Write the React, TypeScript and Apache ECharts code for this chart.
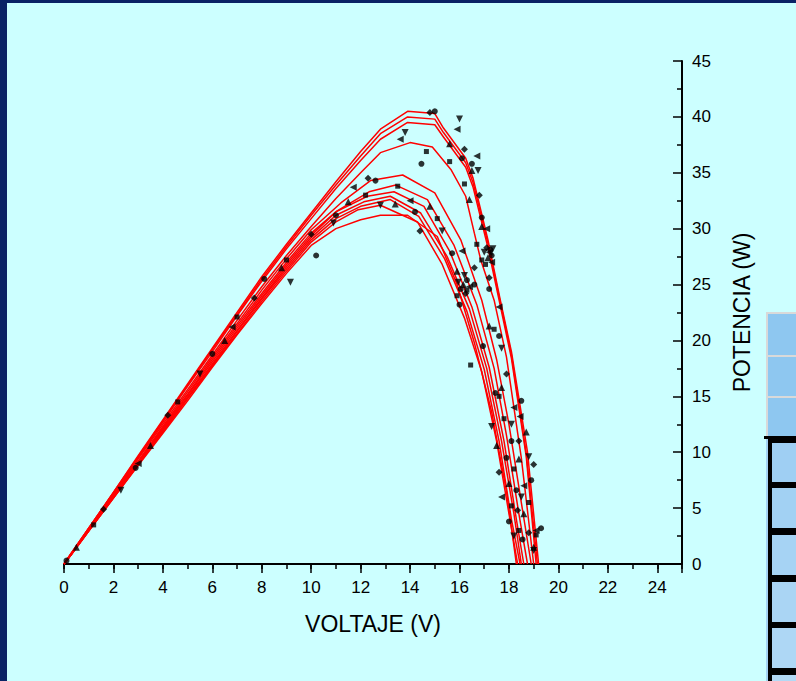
import React, { useEffect, useRef } from "react";
import * as echarts from "echarts";

// ---- fitted curves (voltage V, power W) ----
const vA1 = [0, 0.3, 1, 2, 3, 4, 5, 6, 7, 8, 9, 10, 11, 12, 12.8, 13.9, 15.0, 15.35, 16.25, 16.55, 17.15, 17.65, 18.1, 18.75, 19.2];
const pA1 = [0, 1.0, 3.2, 6.4, 9.7, 12.9, 16.1, 19.3, 22.5, 25.7, 28.6, 31.4, 34.2, 36.9, 38.9, 40.5, 40.3, 39.0, 36.3, 34.5, 29.0, 23.6, 19.0, 10.0, 0];
const vA2 = [0, 0.3, 1, 2, 3, 4, 5, 6, 7, 8, 9, 10, 11, 12, 12.8, 13.9, 15.0, 15.35, 16.25, 16.55, 17.15, 17.65, 18.1, 18.7, 19.15];
const pA2 = [0, 1.0, 3.2, 6.4, 9.6, 12.8, 16.0, 19.2, 22.3, 25.5, 28.4, 31.2, 33.9, 36.5, 38.5, 40.0, 39.8, 38.6, 35.9, 34.1, 28.7, 23.4, 18.7, 9.9, 0];
const vA3 = [0, 0.3, 1, 2, 3, 4, 5, 6, 7, 8, 9, 10, 11, 12, 12.8, 13.9, 15.0, 15.35, 16.25, 16.55, 17.15, 17.65, 18.1, 18.7, 19.1];
const pA3 = [0, 0.95, 3.2, 6.35, 9.5, 12.7, 15.9, 19.0, 22.2, 25.3, 28.2, 30.9, 33.6, 36.1, 38.0, 39.5, 39.3, 38.2, 35.5, 33.7, 28.3, 23.1, 18.4, 9.6, 0];
const vA4 = [0, 0.3, 1, 2, 3, 4, 5, 6, 7, 8, 9, 10, 11, 12, 12.8, 14.0, 14.9, 15.65, 16.25, 16.6, 16.86, 17.4, 17.9, 18.5, 19.0];
const pA4 = [0, 0.9, 3.1, 6.2, 9.4, 12.5, 15.6, 18.7, 21.8, 24.8, 27.6, 30.2, 32.7, 35.0, 36.8, 37.7, 37.3, 35.3, 32.9, 29.6, 27.2, 23.6, 18.5, 9.5, 0];
const vB1 = [0, 0.3, 1, 2, 3, 4, 5, 6, 7, 8, 9, 10, 11.2, 12.4, 13.7, 15.0, 16.05, 16.9, 17.5, 18.0, 18.5, 18.9];
const pB1 = [0, 0.9, 3.1, 6.2, 9.2, 12.3, 15.4, 18.5, 21.5, 24.5, 27.3, 29.9, 32.3, 34.3, 34.8, 33.2, 29.0, 23.6, 18.3, 12.5, 5.5, 0];
const vB2 = [0, 0.3, 1, 2, 3, 4, 5, 6, 7, 8, 9, 10, 11.05, 12.34, 13.42, 14.7, 15.78, 16.7, 17.4, 17.9, 18.4, 18.75];
const pB2 = [0, 0.9, 3.05, 6.1, 9.1, 12.2, 15.2, 18.3, 21.3, 24.2, 27.0, 29.6, 31.6, 33.3, 33.9, 32.6, 28.5, 23.2, 17.5, 11.5, 4.5, 0];
const vB3 = [0, 0.3, 1, 2, 3, 4, 5, 6, 7, 8, 9, 10, 11, 12.27, 13.35, 14.56, 15.6, 16.5, 17.2, 17.8, 18.3, 18.6];
const pB3 = [0, 0.9, 3.0, 6.05, 9.1, 12.1, 15.1, 18.1, 21.1, 24.0, 26.8, 29.4, 31.5, 32.9, 33.3, 32.0, 28.0, 23.0, 17.6, 11.0, 4.0, 0];
const vB4 = [0, 0.3, 1, 2, 3, 4, 5, 6, 7, 8, 9, 10, 11, 12.13, 13.2, 14.43, 15.5, 16.4, 17.1, 17.7, 18.2, 18.5];
const pB4 = [0, 0.9, 3.0, 6.0, 9.0, 12.0, 14.9, 17.9, 20.9, 23.8, 26.6, 29.2, 31.2, 32.4, 32.9, 31.4, 27.5, 22.8, 17.5, 11.0, 4.5, 0];
const vB5 = [0, 0.3, 1, 2, 3, 4, 5, 6, 7, 8, 9, 10, 11, 12.0, 13.2, 14.35, 15.4, 16.3, 17.0, 17.6, 18.1, 18.45];
const pB5 = [0, 0.9, 2.98, 5.95, 8.9, 11.9, 14.9, 17.8, 20.8, 23.7, 26.4, 29.0, 30.9, 32.0, 32.6, 31.1, 27.3, 22.6, 17.4, 11.0, 4.0, 0];
const vB6 = [0, 0.3, 1, 2, 3, 4, 5, 6, 7, 8, 9, 10, 11, 11.9, 12.8, 14.3, 15.3, 16.2, 16.9, 17.5, 18.0, 18.35];
const pB6 = [0, 0.85, 2.95, 5.9, 8.9, 11.8, 14.8, 17.7, 20.6, 23.5, 26.2, 28.8, 30.6, 31.7, 32.1, 30.6, 26.8, 22.0, 17.2, 11.0, 4.5, 0];
const vB7 = [0, 0.3, 1, 2, 3, 4, 5, 6, 7, 8, 9, 10, 11, 12.0, 12.8, 13.9, 15.1, 15.9, 16.6, 17.3, 17.9, 18.3];
const pB7 = [0, 0.85, 2.94, 5.9, 8.8, 11.7, 14.6, 17.6, 20.5, 23.3, 26.0, 28.5, 30.0, 30.8, 31.2, 31.2, 29.3, 25.0, 19.8, 13.6, 6.5, 0];

// ---- measured points [V, W] ----
const ptsCircle = [[0.1, 0.3], [2.9, 8.6], [6.0, 18.8], [8.1, 25.5], [10.2, 27.6], [11.0, 31.2], [12.6, 34.3], [14.46, 35.8], [15.0, 40.5], [16.1, 36.3], [16.5, 35.8], [15.7, 27.8], [16.0, 23.2], [16.9, 31.0], [17.3, 27.6], [17.2, 24.6], [17.6, 20.4], [18.1, 11.0], [18.0, 3.8], [18.9, 7.5], [19.3, 3.2], [18.5, 14.6], [16.6, 25.0], [14.2, 31.5], [16.05, 24.6], [16.3, 25.4], [17.25, 28.1], [17.9, 9.5], [18.3, 6.6], [18.55, 2.2], [16.95, 19.5], [17.45, 15.3]];
const ptsSquare = [[1.2, 3.5], [4.6, 14.5], [7.0, 22.1], [9.0, 27.2], [12.2, 33.0], [13.5, 33.8], [14.66, 36.9], [15.6, 36.0], [16.2, 34.0], [16.7, 28.6], [15.1, 30.9], [16.3, 24.5], [17.4, 21.0], [17.6, 15.0], [18.2, 8.5], [18.8, 5.5], [19.1, 2.6], [16.9, 27.2], [15.9, 24.0], [17.05, 26.8], [17.8, 13.0], [18.1, 5.2], [18.4, 3.0], [16.45, 17.8]];
const ptsTriUp = [[0.5, 1.5], [3.5, 10.6], [6.5, 20.0], [8.8, 26.5], [11.5, 32.4], [13.4, 32.2], [15.6, 37.6], [16.5, 35.2], [14.8, 32.0], [16.9, 30.2], [15.9, 26.2], [17.2, 21.3], [17.7, 15.8], [18.4, 9.4], [18.6, 4.5], [19.0, 1.5], [16.4, 32.6], [17.15, 27.4], [16.15, 25.0], [17.5, 10.6], [18.0, 7.2], [18.7, 11.8]];
const ptsTriDown = [[2.3, 6.6], [5.5, 17.0], [9.16, 25.2], [10.9, 30.5], [13.8, 38.6], [16.0, 39.8], [16.75, 35.2], [15.3, 29.8], [16.2, 25.8], [17.0, 27.9], [17.7, 19.3], [18.1, 12.5], [18.5, 6.0], [19.0, 1.2], [12.8, 32.1], [17.35, 28.2], [15.95, 25.2], [17.3, 12.3], [18.2, 2.5], [18.8, 9.6]];
const ptsDiamond = [[1.6, 4.9], [4.2, 13.3], [7.7, 23.8], [10.0, 29.5], [12.3, 34.5], [14.8, 40.4], [16.2, 37.1], [14.4, 29.8], [16.6, 26.5], [17.2, 25.6], [17.9, 17.0], [18.4, 11.0], [19.0, 8.9], [18.8, 2.8], [16.8, 33.0], [17.1, 28.3], [16.25, 24.2], [17.6, 8.2], [18.35, 4.8]];
const ptsTriLeft = [[3.0, 9.0], [6.8, 21.2], [11.7, 33.7], [13.6, 38.0], [15.9, 38.9], [16.7, 36.5], [17.1, 30.0], [14.0, 32.5], [16.1, 28.0], [17.3, 27.0], [17.6, 23.0], [18.2, 14.0], [18.6, 7.0], [19.1, 3.0], [17.2, 27.9], [16.4, 24.8], [17.7, 6.0], [18.45, 13.2]];

const xTitle = "VOLTAJE (V)";
const yTitle = "POTENCIA (W)";

const curves = [
  [vA1, pA1], [vA2, pA2], [vA3, pA3], [vA4, pA4],
  [vB1, pB1], [vB2, pB2], [vB3, pB3], [vB4, pB4], [vB5, pB5], [vB6, pB6], [vB7, pB7],
];

const zip = (v: number[], p: number[]) => v.map((x, i) => [x, p[i]]);

export default function App() {
  const ref = useRef<HTMLDivElement>(null);
  useEffect(() => {
    if (!ref.current) return;
    const chart = echarts.init(ref.current, null, { renderer: "svg", width: 796, height: 681 });
    const font = "'Liberation Sans', Arial, sans-serif";
    const lineSeries = curves.map(([v, p]) => ({
      type: "line",
      data: zip(v as number[], p as number[]),
      showSymbol: false,
      symbol: "none",
      lineStyle: { color: "#ff0000", width: 1.5 },
      z: 2,
    }));
    const sc = (data: number[][], symbol: string, size: number, rotate = 0) => ({
      type: "scatter",
      data,
      symbol,
      symbolSize: size,
      symbolRotate: rotate,
      itemStyle: { color: "#000" },
      z: 3,
    });
    const cellsLight = [
      { y: 314, h: 41 }, { y: 357, h: 39 }, { y: 398, h: 38 },
    ];
    const cellsDark = [
      { y: 443, h: 39, c: "#9fcff3" }, { y: 488, h: 40, c: "#a2d1f3" }, { y: 535, h: 40, c: "#a6d3f4" },
      { y: 582, h: 40, c: "#aad5f4" }, { y: 628, h: 40, c: "#aed7f5" }, { y: 675, h: 10, c: "#b2d9f5" },
    ];
    const graphic: any[] = [
      { type: "rect", shape: { x: 0, y: 0, width: 7, height: 681 }, style: { fill: "#0a2265" }, z: 10 },
      { type: "rect", shape: { x: 0, y: 0, width: 796, height: 3 }, style: { fill: "#0a2265" }, z: 10 },
      { type: "rect", shape: { x: 766, y: 312, width: 40, height: 126 }, style: { fill: "#d9d9d9" }, z: 5 },
      ...cellsLight.map((c) => ({ type: "rect", shape: { x: 768, y: c.y, width: 40, height: c.h }, style: { fill: "#8ec7f0" }, z: 6 })),
      { type: "rect", shape: { x: 766, y: 437, width: 40, height: 250 }, style: { fill: "#a4d2f3" }, z: 5 },
      { type: "rect", shape: { x: 768, y: 437, width: 40, height: 250 }, style: { fill: "#000" }, z: 6 },
      { type: "rect", shape: { x: 764, y: 436, width: 40, height: 3 }, style: { fill: "#000" }, z: 6 },
      ...cellsDark.map((c) => ({ type: "rect", shape: { x: 772, y: c.y, width: 40, height: c.h }, style: { fill: c.c }, z: 7 })),
    ];
    chart.setOption({
      animation: false,
      backgroundColor: "#ccffff",
      textStyle: { fontFamily: font },
      grid: { left: 64, right: 114, top: 61, bottom: 117, containLabel: false },
      graphic,
      xAxis: [
        {
          type: "value",
          position: "bottom",
          min: 0,
          max: 25,
          interval: 1,
          axisLine: { show: true, onZero: false, lineStyle: { color: "#000", width: 2 } },
          axisTick: { show: true, length: 5, lineStyle: { color: "#000", width: 1.5 } },
          axisLabel: {
            color: "#000",
            fontSize: 17,
            fontFamily: font,
            margin: 15,
            formatter: (v: number) => (v % 2 === 0 && v <= 24 ? String(v) : ""),
          },
          splitLine: { show: false },
          name: xTitle,
          nameLocation: "middle",
          nameGap: 48,
          nameTextStyle: { color: "#000", fontSize: 23, fontFamily: font },
        },
        {
          type: "value",
          position: "bottom",
          min: 0,
          max: 25,
          interval: 2,
          axisLine: { show: false, onZero: false },
          axisTick: { show: true, length: 9, lineStyle: { color: "#000", width: 1.5 } },
          axisLabel: { show: false },
          splitLine: { show: false },
        },
      ],
      yAxis: {
        type: "value",
        position: "right",
        min: 0,
        max: 45,
        interval: 5,
        axisLine: { show: true, onZero: false, lineStyle: { color: "#000", width: 2 } },
        axisTick: { show: true, inside: true, length: 9, lineStyle: { color: "#000", width: 1.5 } },
        minorTick: { show: true, splitNumber: 2, length: 5, lineStyle: { color: "#000", width: 1.5 } },
        axisLabel: { color: "#000", fontSize: 17, fontFamily: font, margin: 10 },
        splitLine: { show: false },
        minorSplitLine: { show: false },
        name: yTitle,
        nameLocation: "middle",
        nameGap: 48,
        nameRotate: 90,
        nameTextStyle: { color: "#000", fontSize: 23, fontFamily: font },
      },
      series: [
        ...lineSeries,
        sc(ptsCircle, "circle", 6),
        sc(ptsSquare, "rect", 5),
        sc(ptsTriUp, "triangle", 7),
        sc(ptsTriDown, "triangle", 7, 180),
        sc(ptsDiamond, "diamond", 7),
        sc(ptsTriLeft, "triangle", 7, 90),
      ],
    });
    return () => chart.dispose();
  }, []);
  return <div ref={ref} style={{ position: "absolute", left: 0, top: 0, width: 796, height: 681 }} />;
}
